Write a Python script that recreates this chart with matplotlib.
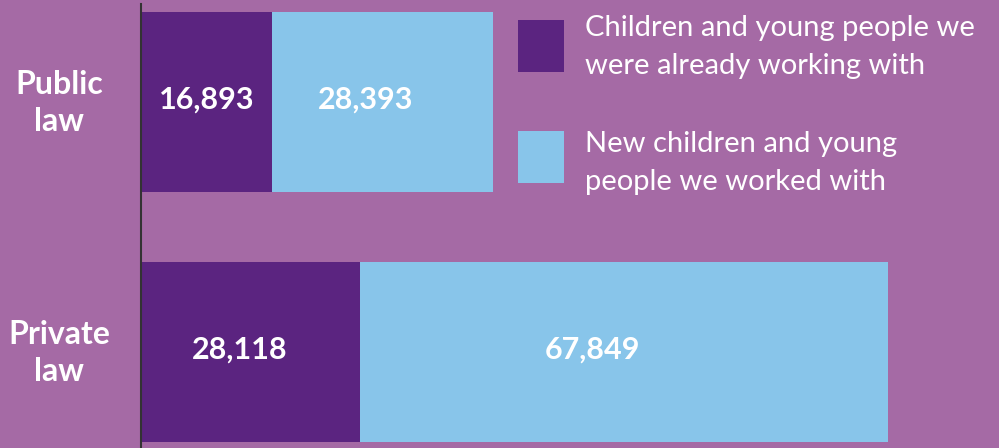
import matplotlib
matplotlib.use('Agg')
import matplotlib.pyplot as plt
from matplotlib.patches import Rectangle

# Data
categories = ['Private\nlaw', 'Public\nlaw']
already = [28118, 16893]
new = [67849, 28393]
series_labels = ['Children and young people we\nwere already working with',
                 'New children and young\npeople we worked with']

bg = '#A56AA5'
dark = '#5B2480'
light = '#88C5EA'

plt.rcParams['font.family'] = ['Lato', 'DejaVu Sans']

fig = plt.figure(figsize=(9.99, 4.48), dpi=100, facecolor=bg)
ax = fig.add_axes([141 / 999, 0, 1 - 141 / 999, 444 / 448])
ax.set_facecolor(bg)

y = [0, 1]
h = 0.72
ax.barh(y, already, height=h, color=dark, edgecolor='none')
ax.barh(y, new, left=already, height=h, color=light, edgecolor='none')

ax.set_xlim(0, 110280)
ax.set_ylim(-0.384, 1.392)

# value labels (slightly left of centre, as in the original)
frac_dark = [0.45, 0.5]
frac_light = [0.44, 0.42]
for i in range(len(categories)):
    ax.text(already[i] * frac_dark[i], y[i] + 0.01, f'{already[i]:,}', color='white',
            fontsize=22, fontweight='bold', ha='center', va='center')
    ax.text(already[i] + new[i] * frac_light[i], y[i] + 0.01, f'{new[i]:,}', color='white',
            fontsize=22, fontweight='bold', ha='center', va='center')
    ax.text(-82 / 858 * 110280, y[i] - 0.005, categories[i], color='white',
            fontsize=23, fontweight='bold', ha='center', va='center',
            linespacing=1.35)

ax.set_xticks([])
ax.set_yticks([])
for s in ['top', 'right', 'bottom']:
    ax.spines[s].set_visible(False)
ax.spines['left'].set_color('#333333')
ax.spines['left'].set_linewidth(1.5)

# legend
W, H = 999, 448
for col, lab, top, mid in zip([dark, light], series_labels, [20, 131], [47, 163]):
    fig.add_artist(Rectangle((518 / W, 1 - (top + 52) / H), 46 / W, 52 / H,
                             transform=fig.transFigure, color=col, lw=0))
    fig.text(585 / W, 1 - mid / H, lab, color='white', fontsize=21,
             ha='left', va='center', linespacing=1.6)

fig.savefig('out.png', dpi=100, facecolor=bg)
